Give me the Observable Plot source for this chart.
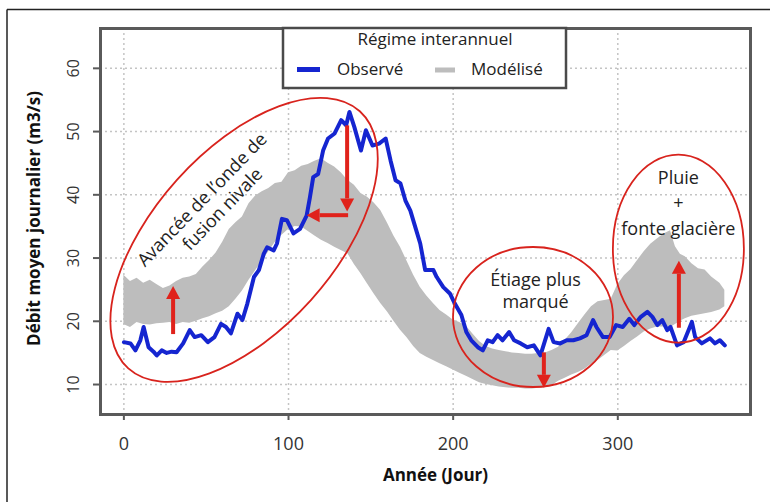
<!DOCTYPE html>
<html><head><meta charset="utf-8">
<script src="https://cdn.jsdelivr.net/npm/d3@7"></script>
<script src="https://cdn.jsdelivr.net/npm/@observablehq/plot@0.6"></script>
<style>body{margin:0;background:#fff;} svg{display:block}</style>
</head><body><div id="chart"></div>
<script>
// Observed interannual regime (blue)
const obsDay = [0,4,7,10,12,15,18,20,23,26,29,32,36,40,43,47,51,55,59,62,65,69,72,75,79,82,85,87,91,93,96,99,103,107,111,113,115,118,121,124,128,132,135,137,140,144,147,151,155,159,162,165,168,171,174,177,180,183,188,190,194,198,201,205,208,211,215,218,221,224,227,230,234,237,241,245,249,253,258,261,265,269,273,277,281,285,287,291,295,299,303,307,310,314,318,321,324,327,330,332,336,340,345,347,351,356,359,362,365];
const obsVal = [16.7,16.5,15.4,17.0,19.1,15.9,15.2,14.6,15.4,15.0,15.2,15.1,16.5,18.6,17.5,17.8,16.7,17.5,19.6,19.1,18.1,21.2,20.2,22.8,27.0,28.1,30.7,31.7,31.2,32.3,36.2,36.0,33.9,34.6,36.7,39.6,42.8,43.3,47.0,48.9,49.7,51.8,51.0,53.1,50.7,47.0,50.2,47.8,48.1,48.9,45.4,42.3,41.8,39.1,37.5,34.9,32.3,28.1,28.1,27.0,25.4,24.4,22.8,21.0,18.3,17.0,15.9,15.4,17.0,16.7,17.8,17.0,18.3,17.0,16.5,15.9,16.2,14.6,18.8,16.7,16.5,17.0,17.0,17.3,17.8,20.2,19.1,17.5,17.5,19.4,19.1,20.4,19.4,20.7,21.5,20.7,19.4,20.2,18.6,19.1,16.2,16.7,19.9,17.5,16.5,17.3,16.5,17.0,16.2];
// Modelled regimes (grey envelope)
const modDay  = [0,4,8,12,16,20,24,28,32,36,40,44,48,52,56,60,64,68,72,76,80,84,88,92,96,100,104,108,112,116,120,124,128,132,136,140,144,148,152,156,160,164,168,172,176,180,184,188,192,196,200,204,208,212,216,220,224,228,232,236,240,244,248,252,256,260,264,268,272,276,280,284,288,292,296,300,304,308,312,316,320,324,328,332,335,338,341,345,349,353,357,362,365];
const modLow  = [19.5,19.0,19.8,19.5,19.4,19.6,19.7,19.8,19.5,19.8,19.7,20.0,20.4,20.7,21.2,21.6,22.3,23.5,24.8,26.5,28.0,29.5,31.0,32.5,33.6,34.5,35.0,34.9,34.2,33.5,32.8,32.3,31.7,31.2,30.7,29.0,27.5,25.9,24.3,22.8,21.5,20.0,18.6,17.4,16.0,14.9,14.3,13.8,13.3,12.8,12.3,11.8,11.3,10.8,10.3,10.0,9.8,9.6,9.5,9.4,9.4,9.3,9.3,9.4,9.5,9.8,10.5,11.0,11.5,11.9,12.4,13.2,13.8,14.6,15.4,15.3,16.0,16.8,17.5,18.3,18.8,19.1,19.1,19.0,19.5,20.0,20.4,20.8,21.0,21.2,21.4,21.8,22.3];
const modHigh = [27.3,26.3,26.8,26.0,26.5,25.8,25.2,25.6,26.3,26.8,27.0,27.4,28.6,29.6,30.8,32.5,34.5,35.6,36.5,38.6,39.8,40.5,41.0,41.8,42.0,43.5,43.8,44.5,44.8,45.3,45.7,45.0,44.4,43.5,42.3,41.5,40.2,39.6,38.7,37.5,35.6,33.5,31.7,29.5,27.3,25.4,24.0,22.8,21.7,21.0,20.2,19.8,19.2,18.0,16.8,16.0,15.6,15.4,15.2,15.0,14.9,14.8,14.8,14.9,15.0,15.4,15.9,17.0,18.2,19.6,21.0,22.3,23.1,23.3,23.5,25.8,27.2,28.2,29.6,31.0,32.2,33.0,33.8,34.3,31.8,30.6,30.2,29.1,28.3,28.1,27.0,26.0,24.9];
const xTicks = [0,100,200,300];
const yTicks = [10,20,30,40,50,60];
const xTitle = "Année (Jour)";
const yTitle = "Débit moyen journalier (m3/s)";
const legendTitle = "Régime interannuel";
const seriesNames = ["Observé","Modélisé"];

// Annotations (data coordinates)
const notes = [
  {day:47.6, val:39.2, text:"Avancée de l’onde de", rot:-46},
  {day:60.0, val:37.7, text:"fusion nivale", rot:-46},
  {day:250.0, val:25.0, text:"Étiage plus\nmarqué", rot:0, lh:1.22},
  {day:336.8, val:39.0, text:"Pluie\n+\nfonte glacière", rot:0, lh:1.44}
];
const ellipses = [
  {day:73.3, val:32.8, rx:173, ry:90, rot:-48},
  {day:248.8, val:20.6, rx:80, ry:70, rot:0},
  {day:337.1, val:31.4, rx:65.5, ry:94, rot:0}
];
const arrows = [
  {d1:30.2, v1:17.9, d2:30.2, v2:25.5},
  {d1:135.9, v1:50.9, d2:135.9, v2:37.3},
  {d1:136.5, v1:36.7, d2:111.3, v2:36.7},
  {d1:255.4, v1:15.0, d2:255.4, v2:9.4},
  {d1:337.4, v1:18.9, d2:337.4, v2:29.5}
];

const obs = obsDay.map((d,i)=>({day:d, val:obsVal[i]}));
const mod = modDay.map((d,i)=>({day:d, lo:modLow[i], hi:modHigh[i]}));

const chart = Plot.plot({
  width:770, height:502,
  marginLeft:100, marginRight:20, marginTop:28, marginBottom:88,
  style:{fontFamily:"'Open Sans', sans-serif", background:"#fff", overflow:"visible"},
  x:{domain:[-14.2,380.6], axis:null},
  y:{domain:[5.26,66.3], axis:null},
  marks:[
    Plot.gridX(xTicks, {stroke:"#c4c4c4", strokeOpacity:1, strokeWidth:1.5, strokeDasharray:"2,3"}),
    Plot.gridY(yTicks, {stroke:"#c4c4c4", strokeOpacity:1, strokeWidth:1.5, strokeDasharray:"2,3"}),
    Plot.areaY(mod, {x:"day", y1:"lo", y2:"hi", fill:"#bdbdbd"}),
    Plot.lineY(obs, {x:"day", y:"val", stroke:"#1525d0", strokeWidth:4, strokeLinejoin:"round"}),
    Plot.frame({stroke:"#5a5a5a", strokeWidth:3}),
    Plot.axisX(xTicks, {anchor:"bottom", tickSize:6, tickPadding:17, fontSize:18, stroke:"#5a5a5a", strokeWidth:2, fill:"#333", label:null}),
    Plot.axisY(yTicks, {anchor:"left", tickSize:7, tickFormat:()=>"", stroke:"#5a5a5a", strokeWidth:2, label:null}),
    Plot.text(yTicks, {y:d=>d, text:d=>String(d), frameAnchor:"left", dx:-27, rotate:-90, fontSize:16, fill:"#333", textAnchor:"middle", lineAnchor:"middle"}),
    Plot.text([yTitle], {frameAnchor:"left", dx:-66, dy:-3, rotate:-90, fontSize:17, fontWeight:"bold", fill:"#111", textAnchor:"middle", lineAnchor:"middle"}),
    Plot.text([xTitle], {frameAnchor:"bottom", dx:10, dy:61, fontSize:17, fontWeight:"bold", fill:"#111", textAnchor:"middle", lineAnchor:"middle"}),
    ...notes.map(n => Plot.text([n], {x:"day", y:"val", text:"text", rotate:n.rot, fontSize:18, fill:"#222", textAnchor:"middle", lineAnchor:"middle", lineHeight:n.lh || 1}))
  ]
});
document.getElementById("chart").appendChild(chart);

const sx = chart.scale("x"), sy = chart.scale("y");
const svg = d3.select(chart);
const red = "#e0221b";
const ga = svg.append("g");
for (const e of ellipses) {
  const cx = sx.apply(e.day), cy = sy.apply(e.val);
  ga.append("ellipse").attr("cx",cx).attr("cy",cy).attr("rx",e.rx).attr("ry",e.ry)
    .attr("transform",`rotate(${e.rot},${cx},${cy})`)
    .attr("fill","none").attr("stroke","#d8231d").attr("stroke-width",1.8);
}
for (const a of arrows) {
  const x1=sx.apply(a.d1), y1=sy.apply(a.v1), x2=sx.apply(a.d2), y2=sy.apply(a.v2);
  const L=Math.hypot(x2-x1,y2-y1), ux=(x2-x1)/L, uy=(y2-y1)/L, hl=13, hw=7;
  const bx=x2-ux*hl, by=y2-uy*hl;
  ga.append("line").attr("x1",x1).attr("y1",y1).attr("x2",bx).attr("y2",by)
    .attr("stroke",red).attr("stroke-width",4);
  ga.append("path").attr("d",`M${x2},${y2}L${bx-uy*hw},${by+ux*hw}L${bx+uy*hw},${by-ux*hw}Z`).attr("fill",red);
}
// Legend box
const lg = svg.append("g").attr("font-family","'Open Sans', sans-serif").attr("font-size",17).attr("fill","#222").attr("text-anchor","start");
lg.append("rect").attr("x",283).attr("y",28).attr("width",283).attr("height",60)
  .attr("fill","#fff").attr("stroke","#4a4a4a").attr("stroke-width",2.5);
lg.append("text").attr("x",435).attr("y",45).attr("text-anchor","middle").text(legendTitle);
lg.append("line").attr("x1",297).attr("x2",320).attr("y1",69.5).attr("y2",69.5).attr("stroke","#1525d0").attr("stroke-width",5);
lg.append("text").attr("x",337).attr("y",75).attr("text-anchor","start").text(seriesNames[0]);
lg.append("line").attr("x1",435).attr("x2",455).attr("y1",70).attr("y2",70).attr("stroke","#bdbdbd").attr("stroke-width",5);
lg.append("text").attr("x",471).attr("y",75).attr("text-anchor","start").text(seriesNames[1]);
// Outer border
svg.append("line").attr("x1",7).attr("x2",770).attr("y1",9.5).attr("y2",9.5).attr("stroke","#222").attr("stroke-width",1.5);
svg.append("line").attr("x1",7).attr("x2",7).attr("y1",9.5).attr("y2",502).attr("stroke","#222").attr("stroke-width",1.5);
</script>
</body></html>
